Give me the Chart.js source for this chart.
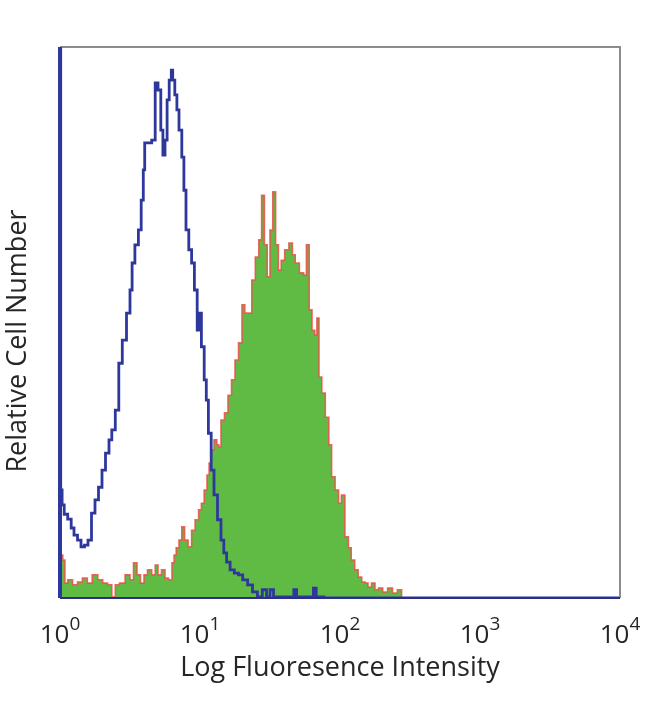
<!DOCTYPE html>
<html>
<head>
<meta charset="utf-8">
<script src="https://cdn.jsdelivr.net/npm/chart.js@4.4.1/dist/chart.umd.min.js"></script>
<style>
  body { margin: 0; background: #fff; }
  canvas { display: block; }
</style>
</head>
<body>
<canvas id="histChart" width="650" height="704"></canvas>
<script>
// x values are in decades (log10 of intensity), y values are relative counts (0-100)
const tickDecades = [0, 1, 2, 3, 4];
const tickBase = '10';
const tickExponents = ['0', '1', '2', '3', '4'];
const xTitle = 'Log Fluoresence Intensity';
const yTitle = 'Relative Cell Number';

// isotype control (blue outline)
const controlX = [0.00, 0.01, 0.02, 0.04, 0.07, 0.09, 0.11, 0.14, 0.16, 0.19, 0.21, 0.24, 0.26, 0.29, 0.31,
  0.34, 0.36, 0.38, 0.41, 0.43, 0.46, 0.49, 0.51, 0.52, 0.55, 0.57, 0.59, 0.60, 0.61, 0.64, 0.67, 0.69,
  0.71, 0.73, 0.74, 0.76, 0.77, 0.79, 0.80, 0.81, 0.83, 0.84, 0.86, 0.88, 0.89, 0.91, 0.93, 0.95, 0.97,
  0.99, 1.00, 1.02, 1.04, 1.05, 1.07, 1.09, 1.11, 1.14, 1.16, 1.18, 1.20, 1.23, 1.26, 1.29, 1.32, 1.36,
  1.39, 1.43, 1.46, 1.49, 1.51, 1.54, 1.66, 1.68, 1.70, 1.80, 1.82, 1.84, 1.93, 4.00];
const controlY = [110, 19.6, 16.9, 15.2, 14.3, 12.7, 11.4, 10.5, 9.3, 9.6, 10.5, 15.4, 17.8, 20.1, 23.2,
  26.3, 28.7, 30.5, 34.1, 42.6, 46.8, 51.7, 55.9, 60.8, 64.1, 66.8, 72.2, 77.7, 82.6, 82.6, 83.1, 93.5,
  92.2, 84.9, 80.4, 83.1, 90.4, 94.0, 95.8, 94.0, 91.3, 88.6, 84.9, 80.0, 74.0, 66.8, 63.2, 60.8, 55.9,
  48.6, 51.7, 45.6, 39.6, 35.9, 29.9, 23.2, 18.7, 14.2, 10.5, 8.2, 6.5, 5.1, 4.5, 4.2, 3.3, 2.4,
  1.1, 0.2, 1.5, 0.2, 1.5, 0.2, 0.2, 1.5, 0.2, 0.2, 1.8, 0.2, 0, 0];

// stained sample (green fill, red outline)
const stainedX = [0.00, 0.01, 0.03, 0.04, 0.07, 0.11, 0.14, 0.18, 0.21, 0.25, 0.29, 0.32, 0.36, 0.38, 0.41,
  0.44, 0.49, 0.51, 0.54, 0.56, 0.59, 0.61, 0.64, 0.67, 0.69, 0.71, 0.74, 0.76, 0.79, 0.81, 0.82, 0.84,
  0.86, 0.88, 0.90, 0.93, 0.95, 0.98, 1.00, 1.02, 1.04, 1.06, 1.07, 1.09, 1.11, 1.13, 1.14, 1.16, 1.19,
  1.21, 1.24, 1.26, 1.29, 1.31, 1.33, 1.36, 1.38, 1.41, 1.43, 1.45, 1.47, 1.49, 1.51, 1.53, 1.55, 1.57,
  1.59, 1.62, 1.65, 1.67, 1.69, 1.73, 1.75, 1.77, 1.79, 1.81, 1.83, 1.84, 1.86, 1.88, 1.91, 1.93, 1.95,
  1.98, 2.00, 2.02, 2.05, 2.07, 2.09, 2.12, 2.14, 2.17, 2.19, 2.21, 2.24, 2.26, 2.29, 2.32, 2.36, 2.39,
  2.43, 2.45, 4.00];
const stainedY = [7.4, 7.8, 6.9, 2.7, 3.3, 2.4, 2.9, 3.6, 2.7, 4.2, 3.3, 2.7, 2.4, 0.2, 2.4,
  2.7, 4.2, 3.3, 6.4, 4.2, 2.7, 4.2, 5.1, 4.2, 6.0, 4.2, 5.1, 3.6, 3.3, 6.4, 7.8, 9.1,
  10.5, 12.9, 10.5, 9.3, 12.3, 14.2, 16.0, 17.2, 19.6, 22.3, 24.5, 26.9, 28.7, 27.8, 27.4, 32.3, 33.6,
  36.8, 39.6, 43.2, 46.3, 53.2, 51.7, 51.7, 57.7, 61.9, 65.0, 73.1, 64.1, 58.3, 66.8, 73.7, 64.1, 59.5,
  61.3, 63.2, 64.4, 62.3, 60.8, 59.0, 58.6, 64.1, 52.3, 48.6, 47.7, 50.8, 40.1, 37.2, 32.8, 27.8, 22.0,
  19.6, 17.2, 18.7, 11.1, 9.1, 6.9, 5.1, 3.8, 2.9, 2.7, 2.0, 2.7, 1.5, 1.8, 1.1, 1.8, 0.9,
  1.5, 0, 0];

function toPoints(xs, ys) {
    return xs.map((x, i) => ({ x: x, y: ys[i] }));
}

const fontFamily = '"Open Sans", Lato, sans-serif';
const textColor = '#262626';

// frame: grey top/right, navy bottom, thick blue left
const framePlugin = {
    id: 'frame',
    afterDatasetsDraw(chart) {
        const { ctx, chartArea: a } = chart;
        ctx.save();
        ctx.lineWidth = 2;
        ctx.strokeStyle = '#8c8c8c';
        ctx.beginPath();
        ctx.moveTo(a.left, a.top);
        ctx.lineTo(a.right, a.top);
        ctx.lineTo(a.right, a.bottom);
        ctx.stroke();
        ctx.strokeStyle = '#2b2f86';
        ctx.beginPath();
        ctx.moveTo(a.left, a.bottom);
        ctx.lineTo(a.right, a.bottom);
        ctx.stroke();
        ctx.lineWidth = 4;
        ctx.strokeStyle = '#2e389c';
        ctx.beginPath();
        ctx.moveTo(a.left, a.top);
        ctx.lineTo(a.left, a.bottom);
        ctx.stroke();
        ctx.restore();
    }
};

// tick labels like 10^n with a raised exponent, plus the rotated y title
const axisText = {
    id: 'axisText',
    afterDraw(chart) {
        const { ctx } = chart;
        const xScale = chart.scales.x;
        ctx.save();
        ctx.fillStyle = textColor;
        ctx.textBaseline = 'alphabetic';
        ctx.textAlign = 'left';
        tickDecades.forEach((v, i) => {
            const px = xScale.getPixelForValue(v);
            ctx.font = '26px ' + fontFamily;
            const wBase = ctx.measureText(tickBase).width;
            ctx.font = '19px ' + fontFamily;
            const wExp = ctx.measureText(tickExponents[i]).width;
            const start = px - (wBase + wExp) / 2;
            ctx.font = '26px ' + fontFamily;
            ctx.fillText(tickBase, start, 643);
            ctx.font = '19px ' + fontFamily;
            ctx.fillText(tickExponents[i], start + wBase, 630);
        });

        ctx.translate(18, 341);
        ctx.rotate(-Math.PI / 2);
        ctx.textAlign = 'center';
        ctx.textBaseline = 'middle';
        ctx.font = '27px ' + fontFamily;
        ctx.fillText(yTitle, 0, 0);
        ctx.restore();
    }
};

new Chart(document.getElementById('histChart'), {
    type: 'line',
    data: {
        datasets: [{
            label: 'Control',
            data: toPoints(controlX, controlY),
            borderColor: '#2e389c',
            borderWidth: 2.8,
            fill: false,
            stepped: 'middle',
            pointRadius: 0,
            order: 0
        }, {
            label: 'Stained',
            data: toPoints(stainedX, stainedY),
            borderColor: 'rgba(232, 80, 70, 0.85)',
            borderWidth: 1.6,
            backgroundColor: '#60bb44',
            fill: 'origin',
            stepped: 'middle',
            pointRadius: 0,
            order: 1
        }]
    },
    options: {
        responsive: false,
        animation: false,
        layout: { padding: { top: 47, right: 30, left: 0, bottom: 0 } },
        plugins: { legend: { display: false }, tooltip: { enabled: false } },
        scales: {
            x: {
                type: 'linear',
                min: 0,
                max: 4,
                grid: { display: false, drawTicks: false },
                border: { display: false },
                afterBuildTicks: (scale) => { scale.ticks = tickDecades.map(v => ({ value: v })); },
                afterFit: (scale) => { scale.height = 106; },
                ticks: { display: false },
                title: {
                    display: true,
                    text: xTitle,
                    color: textColor,
                    font: { family: fontFamily, size: 27 },
                    padding: { top: 0, bottom: 19 }
                }
            },
            y: {
                min: 0,
                max: 100,
                grid: { display: false, drawTicks: false },
                border: { display: false },
                ticks: { display: false },
                afterFit: (scale) => { scale.width = 60; }
            }
        }
    },
    plugins: [framePlugin, axisText]
});
</script>
</body>
</html>
